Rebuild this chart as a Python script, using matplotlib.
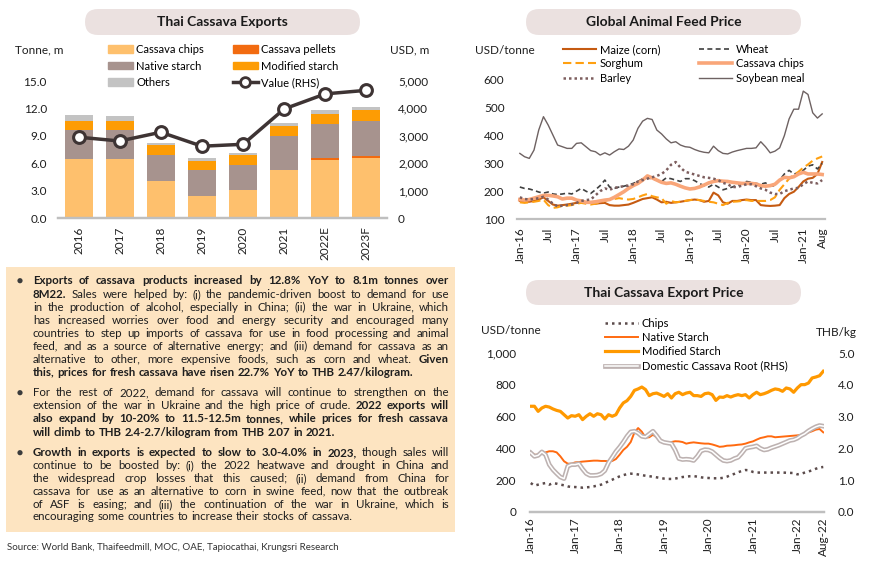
import matplotlib
matplotlib.use("Agg")
import matplotlib.pyplot as plt
from matplotlib.patches import FancyBboxPatch, Rectangle, Patch, Circle
from matplotlib.lines import Line2D
from matplotlib.transforms import IdentityTransform
from matplotlib.ticker import FuncFormatter
import matplotlib.patheffects as pe
import numpy as np

plt.rcParams['font.family'] = ['Lato', 'DejaVu Sans']

# ---------------- DATA ----------------
years = ['2016', '2017', '2018', '2019', '2020', '2021', '2022E', '2023F']
chips = [6.41, 6.42, 4.00, 2.41, 3.06, 5.22, 6.34, 6.56]
pellets = [0.02, 0.05, 0.02, 0.01, 0.01, 0.05, 0.18, 0.18]
native = [3.23, 3.12, 2.90, 2.81, 2.73, 3.74, 3.75, 3.93]
modified = [0.97, 1.04, 1.04, 1.04, 1.05, 1.08, 1.15, 1.15]
others = [0.61, 0.54, 0.29, 0.32, 0.29, 0.32, 0.40, 0.36]
value_usd = [2950, 2810, 3130, 2620, 2690, 3980, 4530, 4660]

feed_ticks = ['Jan-16', 'Jul', 'Jan-17', 'Jul', 'Jan-18', 'Jul', 'Jan-19', 'Jul',
              'Jan-20', 'Jul', 'Jan-21', 'Aug']
maize = [165,163,162,165,170,178,165,152,148,150,152,155,158,162,160,158,155,157,158,150,
         148,148,150,152,158,165,172,175,178,170,160,162,158,160,162,165,168,170,168,162,
         165,195,185,160,155,165,165,168,170,168,168,150,148,147,148,150,175,190,198,215,
         235,245,248,262,305]
wheat = [215,210,208,203,197,193,197,190,188,190,193,190,200,210,200,192,205,220,240,215,
         210,215,218,222,228,235,245,248,245,240,235,248,245,240,235,245,245,238,228,220,
         215,225,215,205,210,215,222,225,235,232,228,225,230,218,220,240,262,275,262,265,
         275,290,295,280,300]
sorghum = [160,158,160,162,165,170,150,140,142,148,148,150,155,158,155,152,155,160,165,170,
           172,175,172,170,172,178,185,190,182,178,175,155,165,160,162,165,168,170,168,165,
           162,160,155,150,158,162,163,165,168,165,165,165,165,168,178,205,225,245,258,270,
           285,296,310,318,325]
cassava_feed = [170,168,170,175,180,185,185,183,180,172,175,175,168,165,160,160,162,165,168,170,
                178,188,198,210,220,228,240,255,248,240,232,228,230,225,218,212,208,210,215,222,
                230,235,238,236,235,232,230,228,228,228,226,220,218,220,225,240,250,248,252,262,
                268,262,262,262,260]
barley = [178,172,170,172,175,180,170,155,145,148,150,152,158,165,168,170,185,200,210,205,
          212,215,218,220,225,235,240,245,250,255,262,275,295,305,285,270,265,260,255,250,
          248,245,240,230,225,215,215,220,225,225,218,210,205,195,190,190,200,205,210,212,
          225,235,230,228,240]
soybean = [336,324,318,348,420,468,438,402,366,360,354,354,372,374,360,346,342,330,338,330,
           342,352,350,362,384,426,452,462,458,420,406,388,374,378,366,360,358,350,344,340,
           338,362,346,336,334,341,346,350,354,354,356,378,360,338,344,356,400,460,495,495,
           560,548,482,463,478]

exp_ticks = ['Jan-16', 'Jan-17', 'Jan-18', 'Jan-19', 'Jan-20', 'Jan-21', 'Jan-22', 'Aug-22']
exp_chips = [182,166,172,178,182,172,182,178,172,168,161,157,157,155,153,155,157,161,166,172,
             182,193,203,214,224,232,238,241,240,236,232,228,225,222,218,214,
             210,208,208,210,215,220,222,225,226,222,218,215,214,212,212,212,215,222,232,240,
             250,258,264,262,252,248,248,248,248,248,248,248,248,247,246,245,237,240,248,255,
             262,272,280,283]
exp_native = [375,360,360,367,375,382,382,375,350,319,304,304,312,314,317,319,321,323,323,321,
              321,319,321,333,
              360,390,410,440,500,528,505,468,470,486,470,455,440,435,440,445,444,440,430,435,
              438,435,432,430,430,425,418,410,412,417,418,420,423,425,430,438,444,455,465,470,
              476,476,470,472,474,476,478,480,482,485,493,500,508,518,522,501]
exp_modified = [665,665,633,654,665,660,648,639,633,612,591,606,602,612,581,602,618,602,618,612,
                585,612,602,612,654,686,700,727,765,774,786,770,732,744,748,738,727,744,717,744,
                753,738,748,753,732,732,727,744,748,738,702,723,721,732,723,732,738,732,738,717,
                738,753,738,744,753,765,774,770,759,780,774,753,780,801,801,811,843,849,857,885]
root_thb = [1.86,1.75,1.78,1.89,1.80,1.49,1.33,1.21,1.10,1.05,1.44,1.49,1.49,1.52,1.35,1.21,
            1.15,1.15,1.16,1.20,
            1.30,1.55,1.72,1.90,2.04,2.20,2.38,2.52,2.54,2.48,2.38,2.36,2.45,2.54,2.40,2.24,
            2.19,2.17,2.15,1.95,1.68,1.65,
            1.66,1.65,1.62,1.75,1.92,1.96,1.95,1.90,1.80,1.70,1.62,1.60,1.62,1.68,1.72,1.85,
            2.00,2.03,2.05,2.08,2.00,1.95,1.97,2.02,2.06,2.10,2.15,2.20,2.25,2.27,2.32,2.40,
            2.46,2.55,2.62,2.68,2.72,2.70]

para1 = ["**Exports of cassava products increased by 12.8% YoY to 8.1m tonnes over**",
         "**8M22.** Sales were helped by: (i) the pandemic-driven boost to demand for use",
         "in the production of alcohol, especially in China; (ii) the war in Ukraine, which",
         "has increased worries over food and energy security and encouraged many",
         "countries to step up imports of cassava for use in food processing and animal",
         "feed, and as a source of alternative energy; and (iii) demand for cassava as an",
         "alternative to other, more expensive foods, such as corn and wheat. **Given**",
         "**this, prices for fresh cassava have risen 22.7% YoY to THB 2.47/kilogram.**"]
para2 = ["For the rest of 2022, demand for cassava will continue to strengthen on the",
         "extension of the war in Ukraine and the high price of crude. **2022 exports will**",
         "**also expand by 10-20% to 11.5-12.5m tonnes, while prices for fresh cassava**",
         "**will climb to THB 2.4-2.7/kilogram from THB 2.07 in 2021.**"]
para3 = ["**Growth in exports is expected to slow to 3.0-4.0% in 2023,** though sales will",
         "continue to be boosted by: (i) the 2022 heatwave and drought in China and",
         "the widespread crop losses that this caused; (ii) demand from China for",
         "cassava for use as an alternative to corn in swine feed, now that the outbreak",
         "of ASF is easing; and (iii) the continuation of the war in Ukraine, which is",
         "encouraging some countries to increase their stocks of cassava."]
source_text = "Source: World Bank, Thaifeedmill, MOC, OAE, Tapiocathai, Krungsri Research"

# ---------------- STYLE ----------------
TXT = '#1e1e1e'
AXC = '#bfbfbf'
TICK_FS = 8.5
W, H = 870, 570
fig = plt.figure(figsize=(W / 100, H / 100), dpi=100)
fig.patch.set_facecolor('white')


def fx(x):
    return x / W


def fy(y):
    return 1 - y / H


def add_ax(l, t, r, b):
    return fig.add_axes([fx(l), fy(b), (r - l) / W, (b - t) / H])


def pill(l, t, r, b, text):
    p = FancyBboxPatch((l, H - b), r - l, b - t,
                       boxstyle="round,pad=0,rounding_size=%f" % ((b - t) / 2),
                       transform=IdentityTransform(), fc='#ebe1e0', ec='none')
    fig.add_artist(p)
    fig.text(fx((l + r) / 2), fy((t + b) / 2 + 0.5), text, ha='center', va='center',
             fontsize=10, fontweight='bold', color='#1a1a1a')


def style(ax, right=False):
    for s in ['top', 'left', 'right']:
        ax.spines[s].set_visible(False)
    ax.spines['bottom'].set_color(AXC)
    ax.spines['bottom'].set_linewidth(1.6)
    ax.tick_params(length=0, labelsize=TICK_FS, labelcolor=TXT)
    ax.patch.set_alpha(0)


# ---------------- PANEL 1: bars ----------------
pill(85, 9, 360, 35, 'Thai Cassava Exports')
ax1 = add_ax(58, 81, 387, 218)
xb = np.arange(len(years))
C_CHIPS, C_PEL, C_NAT, C_MOD, C_OTH = '#fec06d', '#f26b10', '#a7938e', '#fd9c04', '#c3c3c3'
bottom = np.zeros(len(years))
bar_series = [(chips, C_CHIPS, 'Cassava chips'), (pellets, C_PEL, 'Cassava pellets'),
              (native, C_NAT, 'Native starch'), (modified, C_MOD, 'Modified starch'),
              (others, C_OTH, 'Others')]
for vals, col, lab in bar_series:
    ax1.bar(xb, vals, 0.68, bottom=bottom, color=col, label=lab, zorder=2)
    bottom = bottom + np.array(vals)
ax1.set_xlim(-0.5, 7.5)
ax1.set_ylim(0, 15)
ax1.set_yticks(np.arange(0, 15.1, 3))
ax1.yaxis.set_major_formatter(FuncFormatter(lambda v, p: '%.1f' % v))
ax1.set_xticks(xb)
ax1.set_xticklabels(years, rotation=90)
style(ax1)
ax1.tick_params(axis='y', pad=8)
ax1.tick_params(axis='x', pad=6)
ax1b = ax1.twinx()
LINE_C = '#3e3434'
ax1b.plot(xb, value_usd, color=LINE_C, lw=2.5, marker='o', ms=8.5, mfc='white',
          mec=LINE_C, mew=2.2, zorder=3)
ax1b.set_ylim(0, 5000)
ax1b.set_yticks(np.arange(0, 5001, 1000))
ax1b.yaxis.set_major_formatter(FuncFormatter(lambda v, p: '{:,.0f}'.format(v)))
style(ax1b)
ax1b.tick_params(axis='y', pad=8)
ax1b.set_xlim(-0.5, 7.5)
fig.text(fx(15), fy(50), 'Tonne, m', fontsize=TICK_FS, va='center', ha='left', color=TXT)
fig.text(fx(390), fy(50), 'USD, m', fontsize=TICK_FS, va='center', ha='left', color=TXT)

h = {lab: Patch(color=col) for _, col, lab in bar_series}
hv = Line2D([], [], color=LINE_C, lw=2.5, marker='o', ms=7, mfc='white', mec=LINE_C, mew=2)
leg_kw = dict(frameon=False, fontsize=8, borderpad=0, borderaxespad=0, handletextpad=0.3,
              loc='center left', bbox_transform=fig.transFigure)
fig.legend([h['Cassava chips'], h['Native starch'], h['Others']],
           ['Cassava chips', 'Native starch', 'Others'], bbox_to_anchor=(fx(108), fy(66)),
           handlelength=2.25, handleheight=0.65, labelspacing=0.5, **leg_kw)
fig.legend([h['Cassava pellets'], h['Modified starch'], hv],
           ['Cassava pellets', 'Modified starch', 'Value (RHS)'], bbox_to_anchor=(fx(233), fy(66)),
           handlelength=2.25, handleheight=0.65, labelspacing=0.5, **leg_kw)

# ---------------- PANEL 2: feed prices ----------------
pill(526, 9, 801, 35, 'Global Animal Feed Price')
ax2 = add_ax(517, 80, 825, 219)
xi = np.arange(len(soybean))
l_maize, = ax2.plot(xi, maize, color='#c55a11', lw=1.5)
l_wheat, = ax2.plot(xi, wheat, color='#404040', lw=1.2, ls=(0, (3, 2)))
l_sorg, = ax2.plot(xi, sorghum, color='#ffa010', lw=1.5, ls=(0, (4, 2)))
l_cass, = ax2.plot(xi, cassava_feed, color='#f9a679', lw=2.6)
l_barl, = ax2.plot(xi, barley, color='#7d5e5e', lw=1.8, ls=(0, (1, 1.2)))
l_soy, = ax2.plot(xi, soybean, color='#6e6262', lw=1.0)
ax2.set_xlim(-0.6, 64.6)
ax2.set_ylim(100, 600)
ax2.set_yticks(np.arange(100, 601, 100))
ftick_pos = list(range(0, 61, 6)) + [len(soybean) - 1]
ax2.set_xticks(ftick_pos)
ax2.set_xticklabels(feed_ticks, rotation=90)
style(ax2)
ax2.tick_params(axis='y', pad=9)
ax2.tick_params(axis='x', pad=6)
fig.text(fx(475), fy(50), 'USD/tonne', fontsize=TICK_FS, va='center', ha='left', color=TXT)
leg2_kw = dict(frameon=False, fontsize=8, borderpad=0, borderaxespad=0, handletextpad=0.3,
               loc='center left', bbox_transform=fig.transFigure, handlelength=3.0,
               labelspacing=0.3)
fig.legend([l_maize, l_sorg, l_barl], ['Maize (corn)', 'Sorghum', 'Barley'],
           bbox_to_anchor=(fx(563), fy(63.7)), **leg2_kw)
fig.legend([l_wheat, l_cass, l_soy], ['Wheat', 'Cassava chips', 'Soybean meal'],
           bbox_to_anchor=(fx(699), fy(63.7)), **leg2_kw)

# ---------------- PANEL 3: export prices ----------------
pill(526, 280, 801, 305, 'Thai Cassava Export Price')
ax3 = add_ax(530, 353, 824, 512)
xe = np.arange(len(exp_modified))
e_chips, = ax3.plot(xe, exp_chips, color='#5b4b4b', lw=1.8, ls=(0, (1, 1.6)))
e_nat, = ax3.plot(xe, exp_native, color='#ff6a10', lw=1.4)
e_mod, = ax3.plot(xe, exp_modified, color='#ff9900', lw=2.3)
ax3.set_xlim(-0.2, 79.2)
ax3.set_ylim(0, 1000)
ax3.set_yticks(np.arange(0, 1001, 200))
ax3.yaxis.set_major_formatter(FuncFormatter(lambda v, p: '{:,.0f}'.format(v)))
etick_pos = list(range(0, 73, 12)) + [len(exp_modified) - 1]
ax3.set_xticks(etick_pos)
ax3.set_xticklabels(exp_ticks, rotation=90)
style(ax3)
ax3.tick_params(axis='y', pad=10)
ax3.tick_params(axis='x', pad=4)
ax3b = ax3.twinx()
e_root, = ax3b.plot(xe, root_thb, color='white', lw=1.1,
                    path_effects=[pe.Stroke(linewidth=3.4, foreground='#bdb2b1'), pe.Normal()])
ax3b.set_ylim(0, 5)
ax3b.set_yticks(np.arange(0, 5.01, 1))
ax3b.yaxis.set_major_formatter(FuncFormatter(lambda v, p: '%.1f' % v))
style(ax3b)
ax3b.tick_params(axis='y', pad=10)
ax3b.set_xlim(-0.2, 79.2)
fig.text(fx(481), fy(330), 'USD/tonne', fontsize=TICK_FS, va='center', ha='left', color=TXT)
fig.text(fx(857), fy(333), 'THB/kg', fontsize=TICK_FS, va='center', ha='right', color=TXT)
fig.legend([e_chips, e_nat, e_mod, e_root],
           ['Chips', 'Native Starch', 'Modified Starch', 'Domestic Cassava Root (RHS)'],
           bbox_to_anchor=(fx(605), fy(344.7)), **leg2_kw)

# ---------------- TEXT BOX ----------------
fig.add_artist(Rectangle((6, H - 532), 449, 265, transform=IdentityTransform(),
                         fc='#fde4c1', ec='none', zorder=0))
renderer = fig.canvas.get_renderer()
PFS = 8.3
TL, TR = 33, 449


def measure(s, bold=False):
    t = fig.text(0, 0, s, fontsize=PFS, fontweight='bold' if bold else 'normal')
    w = t.get_window_extent(renderer).width
    t.remove()
    return w


space_w = measure('x x') - measure('xx')


def para_line(s, yc, justify):
    parts = s.split('**')
    words = []
    for k, part in enumerate(parts):
        for w in part.split():
            words.append((w, k % 2 == 1))
    texts, widths = [], []
    for w, b in words:
        t = fig.text(0, fy(yc + 3.6), w, fontsize=PFS, fontweight='bold' if b else 'normal',
                     va='baseline', ha='left', color=TXT)
        texts.append(t)
        widths.append(t.get_window_extent(renderer).width)
    if justify and len(words) > 1:
        gap = (TR - TL - sum(widths)) / (len(words) - 1)
    else:
        gap = space_w
    xp = TL
    for t, w in zip(texts, widths):
        t.set_x(fx(xp))
        xp += w + gap


paras = [(para1, [280.7, 294.3, 307, 320, 333, 346, 359, 372]),
         (para2, [392.7, 405.7, 418.7, 432]),
         (para3, [452.7, 465.3, 478.3, 491.3, 504.3, 516.7])]
for lines, ys in paras:
    fig.add_artist(Circle((20, H - ys[0]), 2.6, transform=IdentityTransform(),
                          fc='#3c3c3c', ec='none'))
    for k, (ln, yy) in enumerate(zip(lines, ys)):
        para_line(ln, yy, k < len(lines) - 1)

fig.text(fx(7), fy(548), source_text, fontsize=7, va='center', ha='left', color='#333333')

fig.savefig('out.png', dpi=100)
